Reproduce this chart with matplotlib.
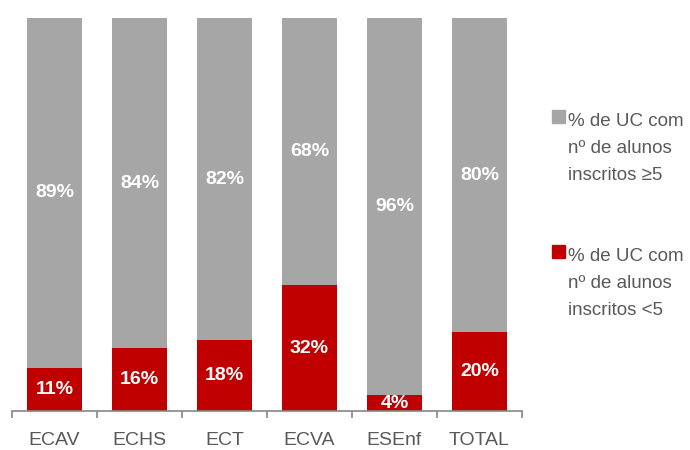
import matplotlib
matplotlib.use("Agg")
import matplotlib.pyplot as plt
from matplotlib.patches import Rectangle
import numpy as np

categories = ["ECAV", "ECHS", "ECT", "ECVA", "ESEnf", "TOTAL"]
under5 = [11, 16, 18, 32, 4, 20]
over5 = [89, 84, 82, 68, 96, 80]
legend_over = ["% de UC com", "nº de alunos", "inscritos ≥5"]
legend_under = ["% de UC com", "nº de alunos", "inscritos <5"]

plt.rcParams['font.family'] = ['Liberation Sans', 'DejaVu Sans']

red = "#C00000"
gray = "#A6A6A6"
txt = "#595959"

W, H = 690, 450
fig = plt.figure(figsize=(6.9, 4.5), dpi=100)
ax = fig.add_axes([12/W, 39/H, 510/W, 393/H])
x = np.arange(len(categories))
w = 0.65
b1 = ax.bar(x, under5, width=w, color=red)
b2 = ax.bar(x, over5, width=w, bottom=under5, color=gray)

for i in range(len(categories)):
    ax.text(x[i], under5[i] / 2, f"{under5[i]}%", ha="center", va="center",
            color="white", fontsize=14, fontweight="bold")
    ax.text(x[i], under5[i] + over5[i] / 2, f"{over5[i]}%", ha="center", va="center",
            color="white", fontsize=14, fontweight="bold")

ax.set_xlim(-0.5, len(categories) - 0.5)
ax.set_ylim(0, 100)
for s in ["top", "right", "left"]:
    ax.spines[s].set_visible(False)
ax.spines["bottom"].set_color("#868686")
ax.spines["bottom"].set_linewidth(1.2)
ax.set_yticks([])
ax.set_xticks(x)
ax.set_xticklabels(categories, fontsize=14, color=txt)
ax.tick_params(axis="x", which="major", length=0, pad=15)
ax.set_xticks(np.arange(-0.5, len(categories)), minor=True)
ax.tick_params(axis="x", which="minor", length=5, color="#868686", width=1.2)

# legend
entries = [(gray, legend_over, 126), (red, legend_under, 261)]
for color, lines, base in entries:
    fig.patches.append(Rectangle((552/W, 1 - (base - 3)/H), 13/W, 13/H,
                                 transform=fig.transFigure, color=color))
    for j, line in enumerate(lines):
        fig.text(568/W, 1 - (base + 27*j)/H, line, fontsize=13.5, color=txt,
                 ha="left", va="baseline")

fig.savefig("out.png", dpi=100)
